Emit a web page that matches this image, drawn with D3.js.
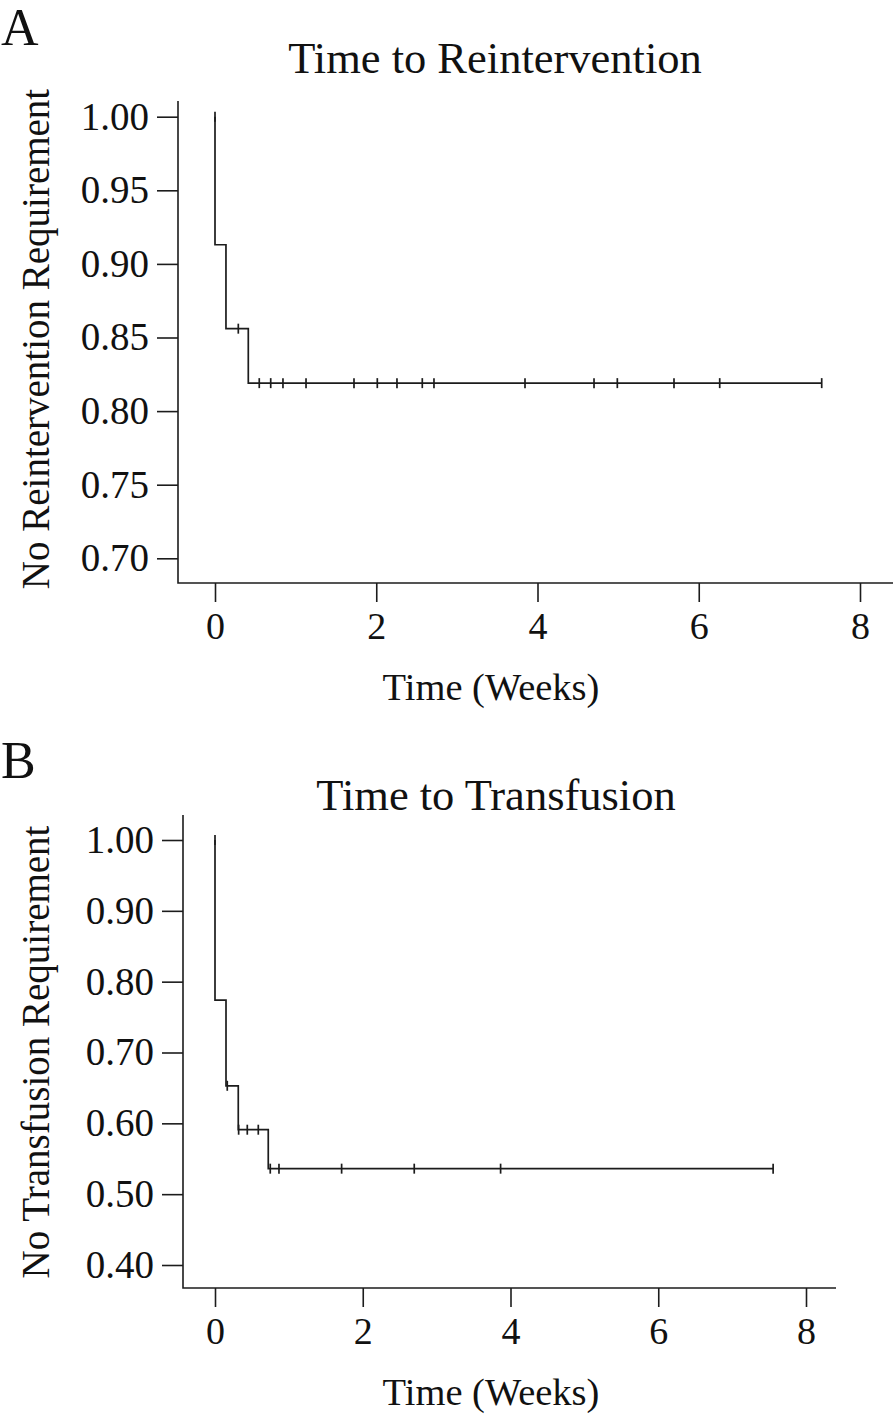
<!DOCTYPE html>
<html>
<head>
<meta charset="utf-8">
<script src="https://cdn.jsdelivr.net/npm/d3@7"></script>
<style>
  html, body { margin: 0; padding: 0; background: #fff; }
  svg { display: block; }
  text { font-family: "Liberation Serif", "Times New Roman", serif; fill: #111; }
</style>
</head>
<body>
<svg id="chart" width="896" height="1421"></svg>
<script>
// ---------------- DATA ----------------
const xTickValues = [0, 2, 4, 6, 8];
const xTickLabels = ["0", "2", "4", "6", "8"];

// Panel A: Time to Reintervention
const panelLabelA = "A";
const titleA = "Time to Reintervention";
const yTitleA = "No Reintervention Requirement";
const yTickValuesA = [1.00, 0.95, 0.90, 0.85, 0.80, 0.75, 0.70];
const yTickLabelsA = ["1.00", "0.95", "0.90", "0.85", "0.80", "0.75", "0.70"];
const startSurvA = 1.00;
const eventTimesA = [0, 0.136, 0.413];
const eventSurvA = [0.913, 0.856, 0.819];
const censorTimesA = [0, 0.289, 0.549, 0.691, 0.843, 1.129, 1.724, 2.013, 2.257, 2.571, 2.716, 3.845, 4.701, 4.990, 5.693, 6.260, 7.525];
const endTimeA = 7.525;

// Panel B: Time to Transfusion
const panelLabelB = "B";
const titleB = "Time to Transfusion";
const yTitleB = "No Transfusion Requirement";
const yTickValuesB = [1.00, 0.90, 0.80, 0.70, 0.60, 0.50, 0.40];
const yTickLabelsB = ["1.00", "0.90", "0.80", "0.70", "0.60", "0.50", "0.40"];
const startSurvB = 1.00;
const eventTimesB = [0, 0.149, 0.315, 0.721];
const eventSurvB = [0.774, 0.653, 0.591, 0.536];
const censorTimesB = [0, 0.166, 0.320, 0.437, 0.586, 0.748, 0.866, 1.714, 2.697, 3.866, 7.555];
const endTimeB = 7.555;

const xTitle = "Time (Weeks)";

// ---------------- LAYOUT ----------------
const panels = [
  {
    label: panelLabelA, title: titleA, yTitle: yTitleA,
    yTicks: yTickValuesA, yLabels: yTickLabelsA,
    start: startSurvA, eventT: eventTimesA, eventS: eventSurvA,
    censor: censorTimesA, end: endTimeA,
    yDomain: [0.70, 1.00],
    xRange: [215, 860], yRange: [558.3, 116.7],
    frame: { left: 178, right: 893, top: 101, bottom: 583 },
    labelPos: [1, 45], titlePos: [495, 73], xTitlePos: [491, 700], yTitlePos: [49, 339]
  },
  {
    label: panelLabelB, title: titleB, yTitle: yTitleB,
    yTicks: yTickValuesB, yLabels: yTickLabelsB,
    start: startSurvB, eventT: eventTimesB, eventS: eventSurvB,
    censor: censorTimesB, end: endTimeB,
    yDomain: [0.40, 1.00],
    xRange: [215, 806], yRange: [1265, 840],
    frame: { left: 183, right: 836, top: 815, bottom: 1288 },
    labelPos: [1, 778], titlePos: [496, 810], xTitlePos: [491, 1405], yTitlePos: [49, 1052]
  }
];

const svg = d3.select("#chart");
const ink = "#1c1c1c";

function survAt(p, t) {
  let s = p.start;
  for (let i = 0; i < p.eventT.length; i++) {
    if (p.eventT[i] < t) s = p.eventS[i];
  }
  return s;
}

panels.forEach(p => {
  const g = svg.append("g");
  const x = d3.scaleLinear().domain([0, 8]).range(p.xRange);
  const y = d3.scaleLinear().domain(p.yDomain).range(p.yRange);
  const f = p.frame;

  // Panel letter
  g.append("text").attr("x", p.labelPos[0]).attr("y", p.labelPos[1])
    .attr("font-size", 52).text(p.label);

  // Title
  g.append("text").attr("x", p.titlePos[0]).attr("y", p.titlePos[1])
    .attr("text-anchor", "middle").attr("font-size", 44.5).text(p.title);

  // Frame (L-shaped)
  g.append("path")
    .attr("d", `M${f.left},${f.top}V${f.bottom}H${f.right}`)
    .attr("fill", "none").attr("stroke", ink).attr("stroke-width", 1.6);

  // X axis
  const xAxis = d3.axisBottom(x).tickValues(xTickValues)
    .tickFormat((d, i) => xTickLabels[i]).tickSize(19).tickPadding(10);
  const gx = g.append("g").attr("transform", `translate(0,${f.bottom})`).call(xAxis);
  gx.select(".domain").remove();
  gx.selectAll(".tick line").attr("stroke", ink).attr("stroke-width", 1.6);
  gx.selectAll(".tick text").attr("font-size", 38)
    .attr("font-family", "Liberation Serif, serif").attr("fill", "#111");

  // Y axis
  const yAxis = d3.axisLeft(y).tickValues(p.yTicks)
    .tickFormat((d, i) => p.yLabels[i]).tickSize(21).tickPadding(8);
  const gy = g.append("g").attr("transform", `translate(${f.left},0)`).call(yAxis);
  gy.select(".domain").remove();
  gy.selectAll(".tick line").attr("stroke", ink).attr("stroke-width", 1.6);
  gy.selectAll(".tick text").attr("font-size", 39)
    .attr("font-family", "Liberation Serif, serif").attr("fill", "#111");

  // Axis titles
  g.append("text").attr("x", p.xTitlePos[0]).attr("y", p.xTitlePos[1])
    .attr("text-anchor", "middle").attr("font-size", 38.5).text(xTitle);
  g.append("text")
    .attr("transform", `translate(${p.yTitlePos[0]},${p.yTitlePos[1]}) rotate(-90)`)
    .attr("text-anchor", "middle").attr("font-size", 39).text(p.yTitle);

  // KM step curve
  const pts = [[0, p.start]];
  p.eventT.forEach((t, i) => pts.push([t, p.eventS[i]]));
  pts.push([p.end, p.eventS[p.eventS.length - 1]]);
  const line = d3.line().x(d => x(d[0])).y(d => y(d[1])).curve(d3.curveStepAfter);
  g.append("path").datum(pts).attr("d", line)
    .attr("fill", "none").attr("stroke", ink).attr("stroke-width", 1.7);

  // Censor marks
  g.selectAll(".censor").data(p.censor).enter().append("line")
    .attr("x1", d => x(d)).attr("x2", d => x(d))
    .attr("y1", d => y(survAt(p, d)) - 5).attr("y2", d => y(survAt(p, d)) + 5)
    .attr("stroke", ink).attr("stroke-width", 1.7);
});
</script>
</body>
</html>
